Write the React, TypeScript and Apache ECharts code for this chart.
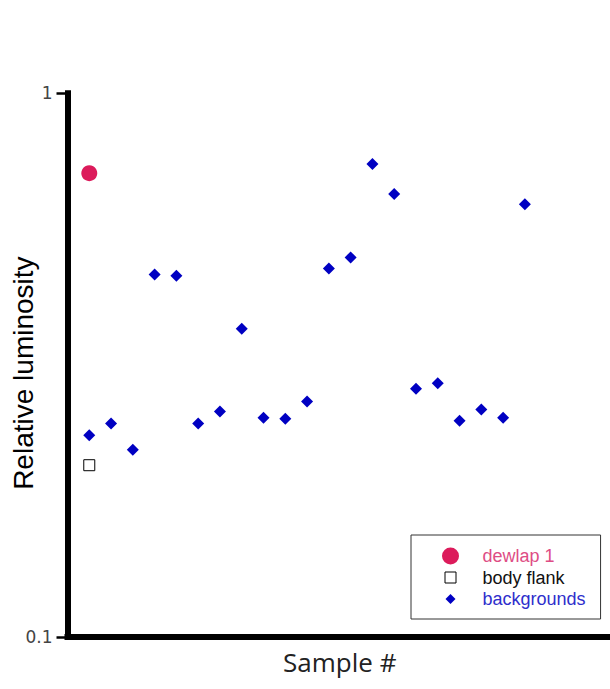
import React, { useEffect, useRef } from "react";
import * as echarts from "echarts";

// Sample numbers along the x axis
const sampleNumbers = [1, 2, 3, 4, 5, 6, 7, 8, 9, 10, 11, 12, 13, 14, 15, 16, 17, 18, 19, 20, 21];

// Relative luminosity of each background sample
const backgroundLuminosity = [
  0.235, 0.247, 0.221, 0.464, 0.462, 0.247, 0.26, 0.369, 0.253, 0.252, 0.271,
  0.476, 0.499, 0.741, 0.653, 0.286, 0.293, 0.25, 0.262, 0.253, 0.625,
];

// Dewlap and body flank are measured once, at sample 1
const dewlapSample = [1];
const dewlapLuminosity = [0.713];
const flankSample = [1];
const flankLuminosity = [0.207];

const seriesNames = ["dewlap 1", "body flank", "backgrounds"];
const yTickLabels = ["0.1", "1"];

const DEWLAP_RED = "#dc1b5b";
const BACKGROUND_BLUE = "#0000c2";

// Legend icons are 36x18 boxes; the shape sits in the left 18px square
const ICON_BOX = "M0,0M36,18";
const circleIcon = `path://${ICON_BOX}M0.5,9A8.5,8.5,0,1,1,17.5,9A8.5,8.5,0,1,1,0.5,9Z`;
const squareIcon = `path://${ICON_BOX}M3.5,3.5L14.5,3.5L14.5,14.5L3.5,14.5Z`;
const diamondIcon = `path://${ICON_BOX}M9,4L14,9L9,14L4,9Z`;

export default function App() {
  const ref = useRef<HTMLDivElement>(null);

  useEffect(() => {
    if (!ref.current) return;
    const chart = echarts.init(ref.current, null, { renderer: "svg" });

    const zip = (xs: number[], ys: number[]) => xs.map((x, i) => [x, ys[i]]);

    chart.setOption({
      animation: false,
      backgroundColor: "#ffffff",
      grid: {
        left: 67.5,
        top: 93.3,
        bottom: 52,
        right: -2,
        containLabel: false,
        outerBoundsMode: "none",
      },
      legend: {
        orient: "vertical",
        left: 411,
        top: 535,
        itemWidth: 36,
        itemHeight: 18,
        itemGap: 3,
        padding: [12, 15, 11, 30],
        borderColor: "#333",
        borderWidth: 1,
        selectedMode: false,
        textStyle: { fontFamily: "Liberation Sans", fontSize: 18 },
        data: [
          {
            name: seriesNames[0],
            icon: circleIcon,
            itemStyle: { color: DEWLAP_RED, borderWidth: 0, opacity: 1 },
            textStyle: { color: "#de4d85" },
          },
          {
            name: seriesNames[1],
            icon: squareIcon,
            itemStyle: { color: "#ffffff", borderColor: "#000", borderWidth: 1, opacity: 1 },
            textStyle: { color: "#111" },
          },
          {
            name: seriesNames[2],
            icon: diamondIcon,
            itemStyle: { color: BACKGROUND_BLUE, borderWidth: 0, opacity: 1 },
            textStyle: { color: "#2e2ecc" },
          },
        ],
      },
      xAxis: {
        type: "value",
        min: 0,
        max: 25,
        name: "Sample #",
        nameLocation: "middle",
        nameGap: 12,
        nameMoveOverlap: false,
        nameTextStyle: { fontFamily: "Open Sans", fontSize: 26, color: "#222" },
        axisLine: { lineStyle: { color: "#000", width: 6, cap: "square" } },
        axisTick: { show: false },
        axisLabel: { show: false },
        splitLine: { show: false },
      },
      yAxis: {
        type: "log",
        logBase: 10,
        min: 0.1,
        max: 1,
        name: "Relative luminosity",
        nameLocation: "middle",
        nameRotate: 90,
        nameGap: 30,
        nameMoveOverlap: false,
        nameTextStyle: {
          fontFamily: "Liberation Sans",
          fontSize: 28,
          color: "#000",
          padding: [0, 16, 0, 0],
        },
        axisLine: { show: true, lineStyle: { color: "#000", width: 6, cap: "square" } },
        axisTick: { show: true, length: 11, lineStyle: { color: "#000", width: 2.5 } },
        axisLabel: {
          margin: 15,
          fontFamily: "DejaVu Sans",
          fontSize: 17,
          color: "#444",
          formatter: (v: number) => (v < 0.5 ? yTickLabels[0] : yTickLabels[1]),
        },
        splitLine: { show: false },
        minorTick: { show: false },
      },
      series: [
        {
          name: seriesNames[2],
          type: "scatter",
          symbol: "diamond",
          symbolSize: 12,
          itemStyle: { color: BACKGROUND_BLUE, opacity: 1 },
          data: zip(sampleNumbers, backgroundLuminosity),
          z: 2,
        },
        {
          name: seriesNames[1],
          type: "scatter",
          symbol: "rect",
          symbolSize: 11,
          itemStyle: { color: "#ffffff", borderColor: "#000", borderWidth: 1, opacity: 1 },
          data: zip(flankSample, flankLuminosity),
          z: 3,
        },
        {
          name: seriesNames[0],
          type: "scatter",
          symbol: "circle",
          symbolSize: 16,
          itemStyle: { color: DEWLAP_RED, opacity: 1 },
          data: zip(dewlapSample, dewlapLuminosity),
          z: 4,
        },
      ],
    });

    return () => chart.dispose();
  }, []);

  return (
    <div
      ref={ref}
      style={{ position: "fixed", left: 0, top: 0, width: 610, height: 689, background: "#fff" }}
    />
  );
}
